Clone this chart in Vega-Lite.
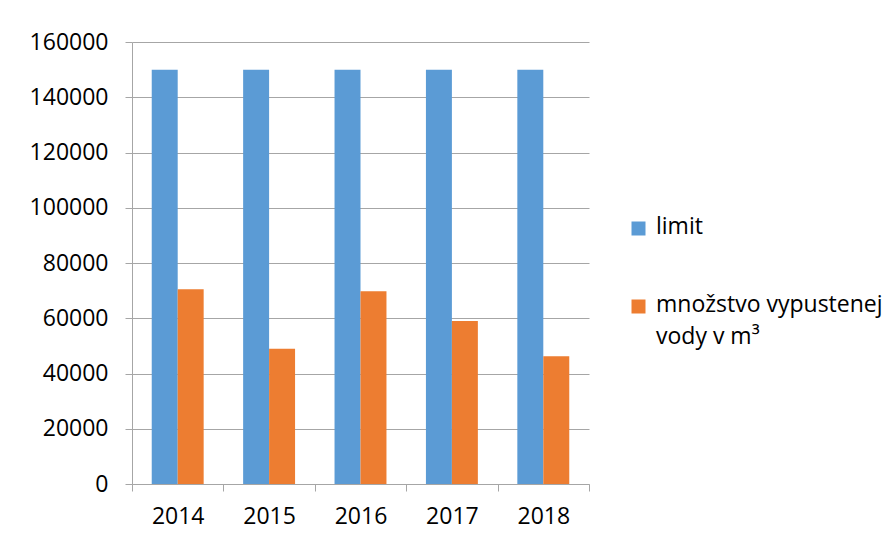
{
  "$schema": "https://vega.github.io/schema/vega-lite/v6.json",
  "autosize": {"type": "none"},
  "padding": {"left": 132, "top": 42, "right": 307, "bottom": 59},
  "width": 457,
  "height": 442,
  "background": "white",
  "config": {
    "view": {"stroke": null},
    "font": "Open Sans"
  },
  "data": {
    "values": [
      {"rok": "2014", "seria": "limit", "hodnota": 150000},
      {"rok": "2014", "seria": "množstvo vypustenej vody v m³", "hodnota": 70500},
      {"rok": "2015", "seria": "limit", "hodnota": 150000},
      {"rok": "2015", "seria": "množstvo vypustenej vody v m³", "hodnota": 49000},
      {"rok": "2016", "seria": "limit", "hodnota": 150000},
      {"rok": "2016", "seria": "množstvo vypustenej vody v m³", "hodnota": 69800},
      {"rok": "2017", "seria": "limit", "hodnota": 150000},
      {"rok": "2017", "seria": "množstvo vypustenej vody v m³", "hodnota": 59000},
      {"rok": "2018", "seria": "limit", "hodnota": 150000},
      {"rok": "2018", "seria": "množstvo vypustenej vody v m³", "hodnota": 46200}
    ]
  },
  "mark": {"type": "bar"},
  "encoding": {
    "x": {
      "field": "rok",
      "type": "nominal",
      "scale": {"paddingInner": 0, "paddingOuter": 0},
      "axis": {
        "title": null,
        "labelAngle": 0,
        "labelFontSize": 23,
        "labelColor": "#000000",
        "labelPadding": 14,
        "tickBand": "extent",
        "tickSize": 7,
        "tickColor": "#a6a6a6",
        "domainColor": "#a6a6a6",
        "grid": false
      }
    },
    "xOffset": {
      "field": "seria",
      "type": "nominal",
      "sort": ["limit", "množstvo vypustenej vody v m³"],
      "scale": {"paddingInner": 0, "paddingOuter": 0.76}
    },
    "y": {
      "field": "hodnota",
      "type": "quantitative",
      "scale": {"domain": [0, 160000], "nice": false},
      "axis": {
        "title": null,
        "values": [0, 20000, 40000, 60000, 80000, 100000, 120000, 140000, 160000],
        "format": "d",
        "labelFontSize": 23,
        "labelColor": "#000000",
        "labelPadding": 17,
        "tickSize": 7,
        "tickColor": "#a6a6a6",
        "domainColor": "#a6a6a6",
        "gridColor": "#a6a6a6",
        "grid": true
      }
    },
    "color": {
      "field": "seria",
      "type": "nominal",
      "sort": ["limit", "množstvo vypustenej vody v m³"],
      "scale": {"domain": ["limit", "množstvo vypustenej vody v m³"], "range": ["#5b9bd5", "#ed7d31"]},
      "legend": {
        "title": null,
        "orient": "none",
        "legendX": 495,
        "legendY": 175,
        "padding": 0,
        "symbolType": "square",
        "symbolSize": 196,
        "symbolStrokeWidth": 0,
        "labelFontSize": 23,
        "labelColor": "#000000",
        "labelOffset": 6,
        "labelLimit": 300,
        "labelBaseline": "top",
        "rowPadding": 54,
        "labelExpr": "datum.label == 'limit' ? 'limit' : ['množstvo vypustenej', 'vody v m³']",
        "encode": {
          "labels": {"update": {"dy": {"value": -13}, "lineHeight": {"value": 32}}}
        }
      }
    }
  }
}
